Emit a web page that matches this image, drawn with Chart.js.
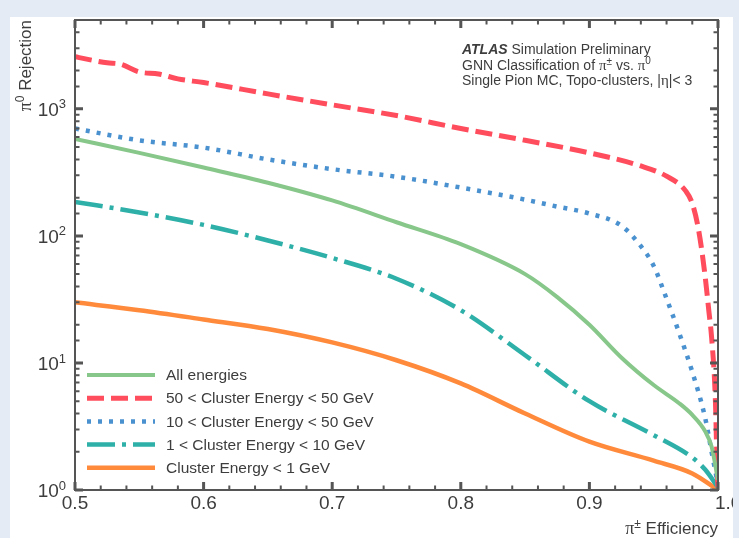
<!DOCTYPE html>
<html lang="en">
<head>
  <meta charset="UTF-8">
  <title>pi0 rejection vs pi+- efficiency</title>
  <script src="https://cdn.jsdelivr.net/npm/chart.js"></script>
  <style>
    body {
      margin: 0;
      background: #e4ebf4;
      font-family: 'Liberation Sans', Arial, sans-serif;
    }
    .panel {
      position: absolute;
      left: 10px;
      top: 17px;
      width: 723px;
      height: 521px;
      background: white;
      overflow: hidden;
    }
  </style>
</head>
<body>
  <div class="panel">
    <canvas id="roc"></canvas>
  </div>

  <script>
    // values
    const effAll = [0.5, 0.55, 0.6, 0.65, 0.7, 0.75, 0.8, 0.85, 0.875, 0.9, 0.925, 0.95, 0.97, 0.98, 0.99, 0.995, 1.0];
    const rejAll = [580, 450, 345, 262, 190, 128, 86, 50, 33, 20, 11, 6.7, 4.8, 3.9, 2.9, 2.2, 1.2];

    const effHigh = [0.5, 0.51, 0.525, 0.535, 0.55, 0.565, 0.58, 0.6, 0.65, 0.7, 0.75, 0.8, 0.85, 0.9, 0.94, 0.96, 0.975, 0.98, 0.985, 0.99, 0.993, 0.995, 0.998, 0.999, 1.0];
    const rejHigh = [2570, 2450, 2300, 2250, 1950, 1880, 1720, 1610, 1310, 1075, 885, 700, 565, 450, 355, 295, 225, 180, 110, 48, 25, 16, 5, 2, 1.0];

    const effMid = [0.5, 0.55, 0.6, 0.65, 0.7, 0.75, 0.8, 0.85, 0.875, 0.9, 0.925, 0.94, 0.95, 0.96, 0.97, 0.98, 0.99, 0.995, 1.0];
    const rejMid = [700, 565, 495, 400, 335, 292, 240, 193, 170, 150, 120, 83, 58, 32, 17, 8.5, 3.7, 2.0, 1.1];

    const effLowMid = [0.5, 0.55, 0.6, 0.65, 0.7, 0.75, 0.8, 0.85, 0.9, 0.95, 0.98, 0.99, 1.0];
    const rejLowMid = [185, 153, 122, 92, 67, 46, 26, 11.5, 5, 2.7, 1.8, 1.45, 1.05];

    const effLow = [0.5, 0.55, 0.6, 0.65, 0.7, 0.75, 0.8, 0.85, 0.9, 0.95, 0.98, 1.0];
    const rejLow = [30, 26, 22, 18.5, 14.5, 10.5, 6.9, 4.0, 2.4, 1.7, 1.35, 1.0];

    const seriesLabels = [
      'All energies',
      '50 < Cluster Energy < 50 GeV',
      '10 < Cluster Energy < 50 GeV',
      '1 < Cluster Energy < 10 GeV',
      'Cluster Energy < 1 GeV'
    ];
    const xTickLabels = ['0.5', '0.6', '0.7', '0.8', '0.9', '1.0'];
    const yTickExponents = ['0', '1', '2', '3'];

    const TXT = '#3d3d3d';
    const SANS = '"Liberation Sans", Arial, sans-serif';
    const SERIF = '"Liberation Serif", "Times New Roman", serif';

    function pts(xs, ys) {
      return xs.map((v, i) => ({ x: v, y: ys[i] }));
    }

    function series(label, xs, ys, color, width, dash) {
      return {
        label: label,
        data: pts(xs, ys),
        borderColor: color,
        backgroundColor: color,
        borderWidth: width,
        borderDash: dash,
        borderCapStyle: 'butt',
        pointRadius: 0,
        fill: false,
        cubicInterpolationMode: 'monotone'
      };
    }

    // draws a run of [text, font, dy] pieces starting at x
    function drawPieces(ctx, pieces, x, y) {
      for (const p of pieces) {
        ctx.font = p[1];
        ctx.fillText(p[0], x, y + (p[2] || 0));
        x += ctx.measureText(p[0]).width;
      }
      return x;
    }
    function piecesWidth(ctx, pieces) {
      let w = 0;
      for (const p of pieces) { ctx.font = p[1]; w += ctx.measureText(p[0]).width; }
      return w;
    }

    const atlasFrame = {
      id: 'atlasFrame',
      afterDatasetsDraw(chart) {
        const { ctx, chartArea: a, scales: { x, y } } = chart;
        ctx.save();

        // frame
        ctx.strokeStyle = '#555';
        ctx.lineWidth = 2;
        ctx.strokeRect(a.left, a.top, a.right - a.left, a.bottom - a.top);

        // x ticks, inward on bottom and top
        x.ticks.forEach(t => {
          const px = x.getPixelForValue(t.value);
          const major = Math.abs(t.value * 10 - Math.round(t.value * 10)) < 1e-6;
          const len = major ? 8 : 4.5;
          ctx.lineWidth = major ? 3 : 2;
          ctx.beginPath();
          ctx.moveTo(px, a.bottom); ctx.lineTo(px, a.bottom - len);
          ctx.moveTo(px, a.top); ctx.lineTo(px, a.top + len);
          ctx.stroke();
        });

        // y ticks, inward on left and right
        y.ticks.forEach(t => {
          const py = y.getPixelForValue(t.value);
          const lg = Math.log10(t.value);
          const major = Math.abs(lg - Math.round(lg)) < 1e-6;
          const len = major ? 8 : 4.5;
          ctx.lineWidth = major ? 3 : 2;
          ctx.beginPath();
          ctx.moveTo(a.left, py); ctx.lineTo(a.left + len, py);
          ctx.moveTo(a.right, py); ctx.lineTo(a.right - len, py);
          ctx.stroke();
        });

        ctx.fillStyle = TXT;

        // x labels
        ctx.textBaseline = 'middle';
        ctx.font = '19px ' + SANS;
        xTickLabels.forEach(lab => {
          const px = x.getPixelForValue(parseFloat(lab));
          if (lab === '1.0') {
            ctx.textAlign = 'left';
            ctx.fillText(lab, px - 3, a.bottom + 14);
          } else {
            ctx.textAlign = 'center';
            ctx.fillText(lab, px, a.bottom + 14);
          }
        });

        // y labels 10^n
        yTickExponents.forEach(e => {
          const py = y.getPixelForValue(Math.pow(10, +e));
          const right = a.left - 9;
          ctx.textAlign = 'right';
          ctx.font = '13px ' + SANS;
          const we = ctx.measureText(e).width;
          ctx.fillText(e, right, py - 4);
          ctx.font = '19px ' + SANS;
          ctx.fillText('10', right - we, py + 2);
        });

        // axis titles
        ctx.textAlign = 'left';
        ctx.textBaseline = 'alphabetic';
        const xt = [['\u03c0', '18px ' + SERIF], ['\u00b1', '12px ' + SANS, -6], [' Efficiency', '17px ' + SANS]];
        drawPieces(ctx, xt, a.right - piecesWidth(ctx, xt), a.bottom + 44);

        const yt = [['\u03c0', '18px ' + SERIF], ['0', '12px ' + SANS, -7], [' Rejection', '17px ' + SANS]];
        ctx.save();
        ctx.translate(21, a.top);
        ctx.rotate(-Math.PI / 2);
        drawPieces(ctx, yt, -piecesWidth(ctx, yt), 0);
        ctx.restore();

        // ATLAS label
        const tx = a.left + 387;
        const l1 = [['ATLAS', 'italic bold 14px ' + SANS], [' Simulation Preliminary', '14px ' + SANS]];
        const l2 = [['GNN Classification of ', '14px ' + SANS], ['\u03c0', '15px ' + SERIF], ['\u00b1', '10px ' + SANS, -5],
                    [' vs. ', '14px ' + SANS], ['\u03c0', '15px ' + SERIF], ['0', '10px ' + SANS, -6]];
        const l3 = [['Single Pion MC, Topo-clusters, |', '14px ' + SANS], ['\u03b7', '15px ' + SERIF], ['|< 3', '14px ' + SANS]];
        drawPieces(ctx, l1, tx, a.top + 34);
        drawPieces(ctx, l2, tx, a.top + 50);
        drawPieces(ctx, l3, tx, a.top + 65);

        // legend
        const lx = a.left + 12;
        let ly = a.bottom - 115;
        chart.data.datasets.forEach(ds => {
          ctx.save();
          ctx.strokeStyle = ds.borderColor;
          ctx.lineWidth = ds.borderWidth;
          ctx.lineCap = 'butt';
          ctx.setLineDash(ds.borderDash || []);
          ctx.beginPath();
          ctx.moveTo(lx, ly);
          ctx.lineTo(lx + 68, ly);
          ctx.stroke();
          ctx.restore();
          ctx.font = '15.5px ' + SANS;
          ctx.textBaseline = 'middle';
          ctx.fillStyle = TXT;
          ctx.fillText(ds.label, lx + 79, ly + 1);
          ly += 23.2;
        });

        ctx.restore();
      }
    };

    new Chart(document.getElementById('roc'), {
      type: 'line',
      data: {
        datasets: [
          series(seriesLabels[0], effAll, rejAll, '#88c78a', 4, []),
          series(seriesLabels[1], effHigh, rejHigh, '#ff4d5d', 5, [17, 7]),
          series(seriesLabels[2], effMid, rejMid, '#4a91d0', 4.5, [4, 7]),
          series(seriesLabels[3], effLowMid, rejLowMid, '#2eb0a9', 4.5, [28, 7, 4, 7]),
          series(seriesLabels[4], effLow, rejLow, '#ff8a3c', 4.5, [])
        ]
      },
      options: {
        responsive: true,
        maintainAspectRatio: false,
        animation: false,
        devicePixelRatio: 1,
        layout: { padding: { top: 3, right: 15, left: 0, bottom: 0 } },
        plugins: {
          legend: { display: false },
          tooltip: { enabled: false }
        },
        scales: {
          x: {
            type: 'linear',
            min: 0.5,
            max: 1.0,
            ticks: { display: false, stepSize: 0.02 },
            grid: { display: false },
            border: { display: false },
            afterFit: s => { s.height = 48; }
          },
          y: {
            type: 'logarithmic',
            min: 1,
            max: 5000,
            ticks: { display: false },
            grid: { display: false },
            border: { display: false },
            afterFit: s => { s.width = 65; }
          }
        }
      },
      plugins: [atlasFrame]
    });
  </script>
</body>
</html>
